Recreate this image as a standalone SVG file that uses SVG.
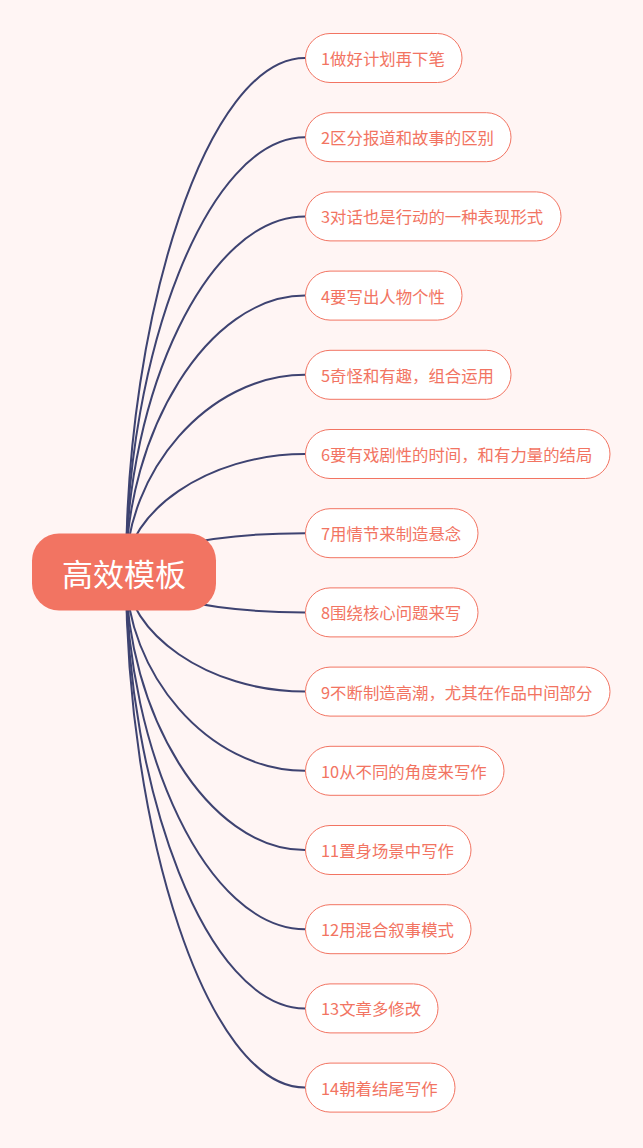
<svg xmlns="http://www.w3.org/2000/svg" width="643" height="1148" viewBox="0 0 643 1148">
<style>
.bg{fill:#fff5f4}
.link{fill:none;stroke:#3e4371;stroke-width:2}
.leaf rect{fill:#ffffff;stroke:#f27462;stroke-width:1}
.leaf text{fill:#f27462;font-family:"Noto Sans CJK SC","Noto Sans",sans-serif;font-size:16.4px}
.root rect{fill:#f27462}
.root text{fill:#ffffff;font-family:"Noto Sans CJK SC","Noto Sans",sans-serif;font-size:31px;text-anchor:middle}
</style>
<rect class="bg" x="0" y="0" width="643" height="1148"/>
<g id="connectors">
<path class="link" d="M126 572 C126 315 207 58 305 58"/>
<path class="link" d="M126 572 C126 354.6 207 137.2 305 137.2"/>
<path class="link" d="M126 572 C126 394.2 207 216.4 305 216.4"/>
<path class="link" d="M126 572 C126 433.8 207 295.6 305 295.6"/>
<path class="link" d="M126 572 C126 473.4 207 374.8 305 374.8"/>
<path class="link" d="M126 572 C126 513 207 454 305 454"/>
<path class="link" d="M126 572 C126 552.6 207 533.2 305 533.2"/>
<path class="link" d="M126 572 C126 592.2 207 612.4 305 612.4"/>
<path class="link" d="M126 572 C126 631.8 207 691.6 305 691.6"/>
<path class="link" d="M126 572 C126 671.4 207 770.8 305 770.8"/>
<path class="link" d="M126 572 C126 711 207 850 305 850"/>
<path class="link" d="M126 572 C126 750.6 207 929.2 305 929.2"/>
<path class="link" d="M126 572 C126 790.2 207 1008.4 305 1008.4"/>
<path class="link" d="M126 572 C126 829.8 207 1087.6 305 1087.6"/>
</g>
<g id="root" class="root">
<rect x="32" y="533.5" width="184" height="77" rx="27"/>
<text x="124" y="586">高效模板</text>
</g>
<g id="n1" class="leaf"><rect x="305.5" y="33.5" width="156.5" height="49" rx="24.5"/><text x="321" y="65">1做好计划再下笔</text></g>
<g id="n2" class="leaf"><rect x="305.5" y="112.7" width="205.5" height="49" rx="24.5"/><text x="321" y="144.2">2区分报道和故事的区别</text></g>
<g id="n3" class="leaf"><rect x="305.5" y="191.9" width="255.5" height="49" rx="24.5"/><text x="321" y="223.4">3对话也是行动的一种表现形式</text></g>
<g id="n4" class="leaf"><rect x="305.5" y="271.1" width="156.5" height="49" rx="24.5"/><text x="321" y="302.6">4要写出人物个性</text></g>
<g id="n5" class="leaf"><rect x="305.5" y="350.3" width="205.5" height="49" rx="24.5"/><text x="321" y="381.8">5奇怪和有趣，组合运用</text></g>
<g id="n6" class="leaf"><rect x="305.5" y="429.5" width="304.5" height="49" rx="24.5"/><text x="321" y="461">6要有戏剧性的时间，和有力量的结局</text></g>
<g id="n7" class="leaf"><rect x="305.5" y="508.7" width="172.5" height="49" rx="24.5"/><text x="321" y="540.2">7用情节来制造悬念</text></g>
<g id="n8" class="leaf"><rect x="305.5" y="587.9" width="172.5" height="49" rx="24.5"/><text x="321" y="619.4">8围绕核心问题来写</text></g>
<g id="n9" class="leaf"><rect x="305.5" y="667.1" width="304.5" height="49" rx="24.5"/><text x="321" y="698.6">9不断制造高潮，尤其在作品中间部分</text></g>
<g id="n10" class="leaf"><rect x="305.5" y="746.3" width="198.5" height="49" rx="24.5"/><text x="321" y="777.8">10从不同的角度来写作</text></g>
<g id="n11" class="leaf"><rect x="305.5" y="825.5" width="165.5" height="49" rx="24.5"/><text x="321" y="857">11置身场景中写作</text></g>
<g id="n12" class="leaf"><rect x="305.5" y="904.7" width="165.5" height="49" rx="24.5"/><text x="321" y="936.2">12用混合叙事模式</text></g>
<g id="n13" class="leaf"><rect x="305.5" y="983.9" width="132.5" height="49" rx="24.5"/><text x="321" y="1015.4">13文章多修改</text></g>
<g id="n14" class="leaf"><rect x="305.5" y="1063.1" width="149.5" height="49" rx="24.5"/><text x="321" y="1094.6">14朝着结尾写作</text></g>
</svg>
